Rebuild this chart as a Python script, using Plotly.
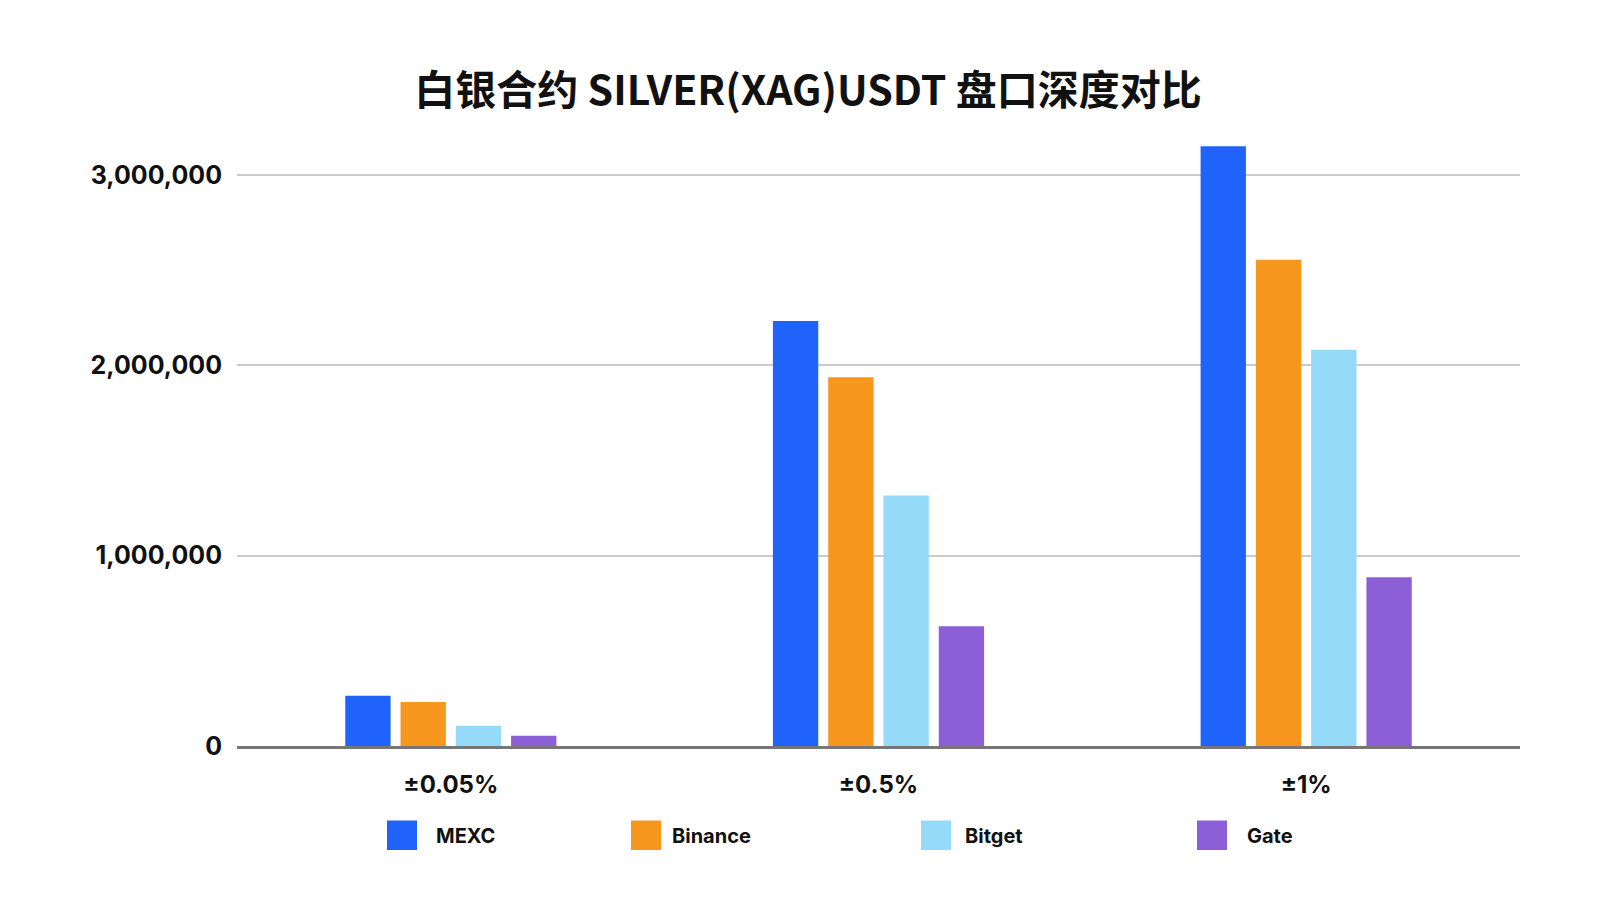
import plotly.graph_objects as go

# ---- data ----
categories = ["±0.05%", "±0.5%", "±1%"]
exchanges = ["MEXC", "Binance", "Bitget", "Gate"]
mexc = [264000, 2233000, 3151000]
binance = [231000, 1938000, 2555000]
bitget = [107000, 1316000, 2082000]
gate = [54000, 629000, 887000]
y_ticks = [0, 1000000, 2000000, 3000000]

title_text = "白银合约 SILVER(XAG)USDT 盘口深度对比"
colors = ["#1F63FA", "#F8971E", "#96DAFA", "#8C5FD6"]
series = [mexc, binance, bitget, gate]

W, H = 1600, 900
L, R, T, B = 229, 88, 110, 162
PW, PH = W - L - R, H - T - B

def px_x(p):
    return (p - L) / PW

def px_y(p):
    return (H - B - p) / PH

fig = go.Figure()
for name, vals, col in zip(exchanges, series, colors):
    fig.add_trace(go.Bar(
        x=categories, y=vals, name=name, showlegend=False,
        marker=dict(color=col, line=dict(width=0)),
    ))

# custom legend (large squares), positioned under the plot
legend_sq_left = [379, 623, 913, 1189]
legend_txt_left = [426, 662, 955, 1237]
sq_top, sq_bot = 812.5, 842
shapes = []
annotations = []
for name, col, sx, tx in zip(exchanges, colors, legend_sq_left, legend_txt_left):
    shapes.append(dict(type="rect", xref="paper", yref="paper",
                       x0=px_x(sx), x1=px_x(sx + 30), y0=px_y(sq_bot), y1=px_y(sq_top),
                       fillcolor=col, line=dict(width=0)))
    annotations.append(dict(xref="paper", yref="paper", x=px_x(tx), y=px_y(827.5),
                            xanchor="left", yanchor="middle", showarrow=False,
                            text=name, font=dict(family="Inter", size=20, color="#111111", weight="bold")))

fig.update_layout(
    width=W, height=H,
    margin=dict(l=L, r=R, t=T, b=B, autoexpand=False),
    paper_bgcolor="white", plot_bgcolor="white",
    barmode="group", bargap=0.483, bargroupgap=0.18,
    title=dict(text=title_text, x=0.5, xref="container", xanchor="center",
               y=1 - 83 / H, yref="container", yanchor="middle",
               font=dict(family="Noto Sans CJK SC", size=41, color="#111111", weight="bold")),
    font=dict(family="Inter", color="#111111"),
    shapes=shapes, annotations=annotations,
    showlegend=False,
)
fig.update_xaxes(
    showline=True, linecolor="#767676", linewidth=3,
    showgrid=False, ticks="", ticklabelstandoff=15,
    tickfont=dict(family="Inter", size=24, color="#111111", weight="bold"),
)
fig.update_yaxes(
    range=[0, 3300000], tickvals=y_ticks, tickformat=",",
    showgrid=True, gridcolor="#CBCBCB", gridwidth=1.5,
    zeroline=False, showline=False, ticks="", ticklabelstandoff=14,
    tickfont=dict(family="Inter", size=25, color="#111111", weight="bold"),
)

fig.write_html("out.html")
